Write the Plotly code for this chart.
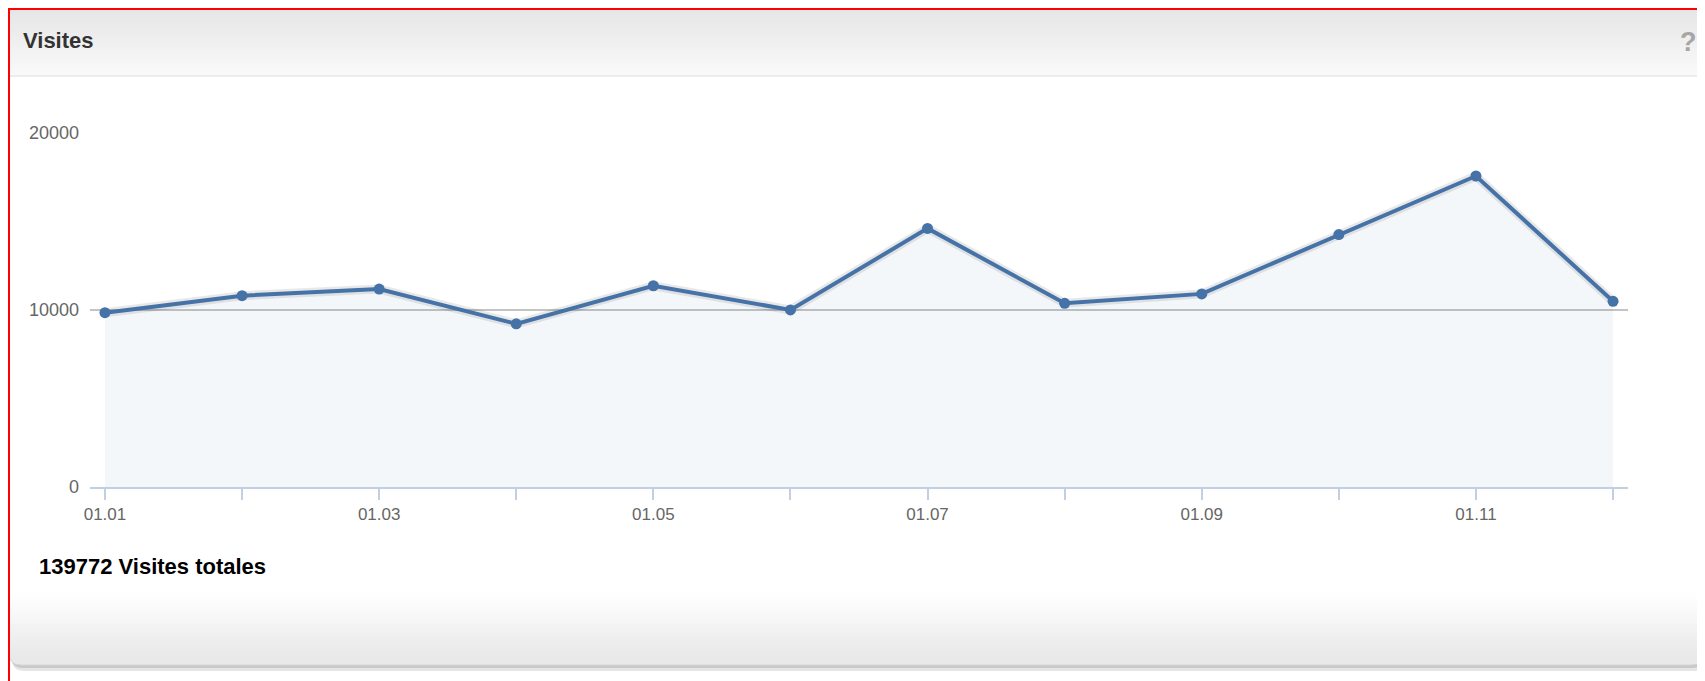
import plotly.graph_objects as go

# ---------------- data ----------------
categories = ["01.01", "01.02", "01.03", "01.04", "01.05", "01.06",
              "01.07", "01.08", "01.09", "01.10", "01.11", "01.12"]
visits = [9850, 10810, 11185, 9220, 11370, 10005,
          14610, 10380, 10910, 14260, 17570, 10490]
x_tick_labels = ["01.01", "", "01.03", "", "01.05", "",
                 "01.07", "", "01.09", "", "01.11", ""]
y_tick_values = [0, 10000, 20000]
y_tick_labels = ["0", "10000", "20000"]
title_text = "Visites"
total_text = "139772 Visites totales"
help_text = "?"

# ---------------- layout helpers ----------------
OFF = 8                      # browser body margin
W, H = 1705 - OFF, 681 - OFF
ML, MR, MT, MB = 82, 77, 125, 194
PW = W - ML - MR
PH = H - MT - MB
FONT = "Liberation Sans, Arial, sans-serif"


def px(x):
    """page x (pixels) -> paper x"""
    return (x - OFF - ML) / PW


def py(y):
    """page y (pixels, from top) -> paper y"""
    return (H - MB - (y - OFF)) / PH


def rect(x0, y0, x1, y1, color, layer="below"):
    return dict(type="rect", xref="paper", yref="paper",
                x0=px(x0), x1=px(x1), y0=py(y1), y1=py(y0),
                fillcolor=color, line=dict(width=0), layer=layer)


def rounded_bottom_path(x0, y0, x1, y1, r):
    pts = [
        f"M {px(x0)},{py(y0)}",
        f"L {px(x1)},{py(y0)}",
        f"L {px(x1)},{py(y1 - r)}",
        f"Q {px(x1)},{py(y1)} {px(x1 - r)},{py(y1)}",
        f"L {px(x0 + r)},{py(y1)}",
        f"Q {px(x0)},{py(y1)} {px(x0)},{py(y1 - r)}",
        "Z",
    ]
    return " ".join(pts)


def lerp(c0, c1, t):
    return "rgb(%d,%d,%d)" % tuple(round(a + (b - a) * t) for a, b in zip(c0, c1))


shapes = []
# panel shadow
shapes.append(dict(type="path", xref="paper", yref="paper",
                   path=rounded_bottom_path(12, 12, 1706, 671, 12),
                   fillcolor="rgba(0,0,0,0.10)", line=dict(width=0), layer="below"))
shapes.append(dict(type="path", xref="paper", yref="paper",
                   path=rounded_bottom_path(11, 11, 1705, 668, 12),
                   fillcolor="rgba(0,0,0,0.12)", line=dict(width=0), layer="below"))
# panel body (bottom colour shows in rounded part)
shapes.append(dict(type="path", xref="paper", yref="paper",
                   path=rounded_bottom_path(9, 9, 1703, 665, 12),
                   fillcolor="rgb(233,233,233)", line=dict(color="#D6D6D6", width=1),
                   layer="below"))
# white body
shapes.append(rect(10, 76, 1702, 594, "white"))
# header gradient
top_c, bot_c = (230, 230, 230), (249, 249, 249)
n = 22
for i in range(n):
    y0 = 9 + (75 - 9) * i / n
    y1 = 9 + (75 - 9) * (i + 1) / n + 0.6
    shapes.append(rect(10, y0, 1705, y1, lerp(top_c, bot_c, i / (n - 1))))
shapes.append(dict(type="line", xref="paper", yref="paper",
                   x0=px(10), x1=px(1705), y0=py(76), y1=py(76),
                   line=dict(color="#ECECEC", width=2), layer="below"))
# bottom gradient
g0, g1 = (255, 255, 255), (233, 233, 233)
n2 = 20
for i in range(n2):
    y0 = 594 + (654 - 594) * i / n2
    y1 = 594 + (654 - 594) * (i + 1) / n2 + 0.6
    shapes.append(rect(10, y0, 1702, y1, lerp(g0, g1, (i + 0.5) / n2)))
# red frame
shapes.append(dict(type="line", xref="paper", yref="paper",
                   x0=px(0), x1=px(1710), y0=py(9), y1=py(9),
                   line=dict(color="#FF0000", width=2), layer="above"))
shapes.append(dict(type="line", xref="paper", yref="paper",
                   x0=px(9), x1=px(9), y0=py(8), y1=py(690),
                   line=dict(color="#FF0000", width=2), layer="above"))

annotations = [
    dict(text="<b>" + title_text + "</b>", xref="paper", yref="paper",
         x=px(21), y=py(41), xanchor="left", yanchor="middle", showarrow=False,
         font=dict(family=FONT, size=22, color="#333333")),
    dict(text="<b>" + help_text + "</b>", xref="paper", yref="paper",
         x=px(1688), y=py(42), xanchor="center", yanchor="middle", showarrow=False,
         font=dict(family=FONT, size=27, color="#A6A6A6")),
    dict(text="<b>" + total_text + "</b>", xref="paper", yref="paper",
         x=px(37), y=py(566), xanchor="left", yanchor="middle", showarrow=False,
         font=dict(family=FONT, size=22, color="#000000")),
]

fig = go.Figure()
# area fill
fig.add_trace(go.Scatter(x=categories, y=visits, mode="lines", fill="tozeroy",
                         fillcolor="rgba(69,114,167,0.06)", line=dict(width=0),
                         hoverinfo="skip", showlegend=False))
# line shadow
fig.add_trace(go.Scatter(x=categories, y=visits, mode="lines",
                         line=dict(color="rgba(0,0,0,0.09)", width=9),
                         hoverinfo="skip", showlegend=False))
# main line
fig.add_trace(go.Scatter(x=categories, y=visits, mode="lines+markers",
                         line=dict(color="#4572A7", width=4),
                         marker=dict(color="#4572A7", size=11, symbol="circle"),
                         name="Visites", showlegend=False))

fig.update_layout(
    width=W, height=H,
    margin=dict(l=ML, r=MR, t=MT, b=MB, pad=0),
    paper_bgcolor="white", plot_bgcolor="rgba(0,0,0,0)",
    shapes=shapes, annotations=annotations,
    font=dict(family=FONT),
    xaxis=dict(type="category", categoryorder="array", categoryarray=categories,
               range=[-0.109, len(categories) - 1 + 0.109],
               tickmode="array", tickvals=categories, ticktext=x_tick_labels,
               ticks="outside", ticklen=11, tickwidth=1.5, tickcolor="#C0D0E0",
               showline=True, linecolor="#C0D0E0", linewidth=2,
               showgrid=False, zeroline=False,
               tickfont=dict(family=FONT, size=17, color="#666666")),
    yaxis=dict(range=[0, 20000], tickmode="array", tickvals=y_tick_values,
               ticktext=y_tick_labels, showgrid=True, gridcolor="#C4C4C4",
               gridwidth=2, zeroline=False, showline=False, ticks="",
               ticklabelstandoff=10,
               tickfont=dict(family=FONT, size=18, color="#666666")),
)

fig.write_html("out.html")
